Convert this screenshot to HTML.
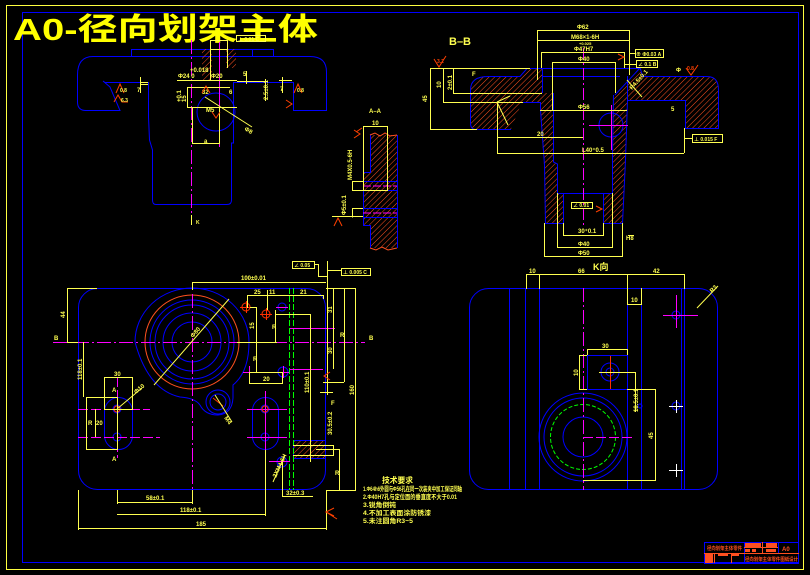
<!DOCTYPE html>
<html><head><meta charset="utf-8"><style>
html,body{margin:0;padding:0;background:#000;width:810px;height:575px;overflow:hidden}
svg{display:block}
text{font-family:"Liberation Sans","Noto Sans CJK SC",sans-serif;font-weight:bold}
</style></head><body>
<svg width="810" height="575" viewBox="0 0 810 575" xmlns="http://www.w3.org/2000/svg">
<defs>
<pattern id="h" patternUnits="userSpaceOnUse" width="4" height="4" patternTransform="rotate(45)"><line x1="0" y1="0" x2="0" y2="4" stroke="#ff5020" stroke-width="1"/></pattern>
</defs>
<rect width="810" height="575" fill="#000"/>

<!-- frames -->
<rect x="6.5" y="5.5" width="797" height="564" fill="none" stroke="#ffff40"/>
<rect x="22.5" y="12.5" width="776" height="550" fill="none" stroke="#0000ff"/>

<!-- title -->
<text x="13" y="40" font-size="31" fill="#ffff00" textLength="305" lengthAdjust="spacingAndGlyphs">A0-径向划架主体</text>

<!-- ============ TOP-LEFT VIEW ============ -->
<g fill="none" stroke="#0000ff">
<rect x="131.5" y="49.5" width="142" height="7"/>
<line x1="252.5" y1="49.5" x2="252.5" y2="56.5"/>
<path d="M93,56.5 L310,56.5 Q326.5,56.5 326.5,72 L326.5,110.5 L293.5,110.5 L293.5,82.5 L233.5,82.5 L233.5,143 L231.5,143 L231.5,200 Q231.5,204.5 227,204.5 L156,204.5 Q152.5,204.5 152.5,200 L152.5,150 L149.5,140 L148.5,117 L148.5,82.5 L105,82.5 L103,81 L110,87 L120,110.5 L86,110.5 Q77.5,110.5 77.5,102 L77.5,75 Q77.5,56.5 93,56.5 Z"/>
<circle cx="216" cy="112" r="19"/>
</g>
<rect x="202" y="49" width="10" height="31" fill="url(#h)"/>
<rect x="226" y="49" width="10" height="19" fill="url(#h)"/>
<g stroke="#ff00ff" fill="none">
<line x1="191.5" y1="40" x2="191.5" y2="213" stroke-dasharray="14 3 2 3"/>
<line x1="219.5" y1="42" x2="219.5" y2="147"/>
<line x1="219" y1="107.5" x2="236" y2="107.5"/>
</g>
<g stroke="#ffff50" fill="none">
<rect x="210.5" y="40.5" width="17" height="9"/>
<line x1="210.5" y1="49" x2="210.5" y2="80"/>
<line x1="227.5" y1="49" x2="227.5" y2="68"/>
<line x1="177" y1="80.5" x2="237" y2="80.5"/>
<line x1="187.5" y1="87" x2="187.5" y2="107"/>
<line x1="187" y1="87.5" x2="230" y2="87.5"/>
<line x1="187" y1="107.5" x2="237" y2="107.5"/>
<rect x="192.5" y="107.5" width="27" height="36"/>
<line x1="205" y1="97" x2="252" y2="127"/>
<rect x="236.5" y="35.5" width="29" height="6"/>
<line x1="140.5" y1="77" x2="140.5" y2="93"/>
<line x1="140" y1="82.5" x2="148" y2="82.5"/>
<line x1="140" y1="84.5" x2="148" y2="84.5"/>
<line x1="246.5" y1="71" x2="246.5" y2="84"/>
<line x1="237" y1="81.5" x2="267" y2="81.5"/>
<line x1="265.5" y1="79" x2="265.5" y2="101"/>
<line x1="282.5" y1="77" x2="282.5" y2="93"/>
<line x1="279" y1="80.5" x2="292" y2="80.5"/>
<line x1="191.5" y1="215" x2="191.5" y2="225"/>
</g>
<g fill="#ffff50" font-size="6">
<text x="190" y="72">+0.018</text>
<text x="178" y="78">Φ24 0</text>
<text x="211" y="78">Φ20</text>
<text x="202" y="94">32</text>
<text x="229" y="94">6</text>
<text x="137" y="92">7</text>
<text x="243" y="76">5</text>
<text x="280" y="91">7</text>
<text x="206" y="112">M5</text>
<text x="204" y="143">a</text>
<text x="244" y="130" transform="rotate(30 244 130)">Φ8</text>
<text x="238" y="41" font-size="5">⊥ 0.01 C</text>
<text x="186" y="102" transform="rotate(-90 186 102)">15</text>
<text x="181" y="102" transform="rotate(-90 181 102)">+0.1</text>
<text x="268" y="100" transform="rotate(-90 268 100)">2.5±0.1</text>
<text x="196" y="224" font-size="5">K</text>
</g>
<g fill="none" stroke="#ff4000">
<path d="M116,93 L120,84 L124,93 M114,102 L118,95 L122,102 L128,102"/>
<path d="M294,93 L298,84 L302,93"/>
<path d="M202,93 L206,86 L210,93 M212,112 L216,118 L220,112"/>
<path d="M286,100 L292,104 L286,108"/>
</g>
<g fill="#ffff50" font-size="5"><text x="120" y="92">0.8</text><text x="121" y="102">6.3</text><text x="297" y="92">0.8</text></g>

<!-- ============ A-A SECTION ============ -->
<path d="M370,135 L397,135 L397,248 L370,248 L370,225 L363,225 L363,172 L370,172 Z" fill="url(#h)"/>
<g fill="none" stroke="#0000ff">
<path d="M370.5,135 L370.5,172.5 L363.5,172.5 L363.5,225.5 L370.5,225.5 L370.5,248"/>
<line x1="397.5" y1="135" x2="397.5" y2="248"/>
<line x1="363" y1="181.5" x2="397" y2="181.5"/>
<line x1="363" y1="190.5" x2="397" y2="190.5"/>
<line x1="363" y1="208.5" x2="397" y2="208.5"/>
<line x1="363" y1="217.5" x2="397" y2="217.5"/>
</g>
<path d="M370,135 L375,133 L380,136 L385,133 L390,136 L397,135 M370,248 L376,250 L382,247 L388,250 L397,248" stroke="#ff5020" fill="none"/>
<g stroke="#ff00ff"><line x1="363" y1="186" x2="397" y2="186" stroke-dasharray="8 2"/><line x1="363" y1="213" x2="397" y2="213" stroke-dasharray="8 2"/></g>
<g fill="none" stroke="#ffff50">
<rect x="363.5" y="126.5" width="24" height="64"/>
<path d="M363,181.5 L352.5,181.5 L352.5,190.5 L363,190.5"/>
<path d="M363,208.5 L352.5,208.5 L352.5,217.5"/>
<line x1="332" y1="216.5" x2="363" y2="216.5"/>
</g>
<g fill="#ffff50" font-size="6">
<text x="369" y="113">A–A</text>
<text x="372" y="125">10</text>
<text x="352" y="180" transform="rotate(-90 352 180)">M4X0.5-6H</text>
<text x="346" y="215" transform="rotate(-90 346 215)">Φ5±0.1</text>
</g>
<g fill="none" stroke="#ff4000"><path d="M354,130 L360,134 L354,138 M356,132 L362,128"/><path d="M334,226 L338,218 L342,226"/></g>

<!-- ============ B-B SECTION ============ -->
<text x="449" y="45" font-size="11" fill="#ffff50" font-weight="normal">B–B</text>
<path d="M488,76 L520,76 L527,68 L542,68 L542,93 L540,93 L540,102 L522,102 L511,129 L476,129 Q470,129 470,123 L470,90 Q470,76 488,76 Z" fill="url(#h)"/>
<path d="M540,93 L553,93 L553,162 L557,164 L557,193 L563,193 L563,223 L545,223 L544,165 L540,110 Z" fill="url(#h)"/>
<path d="M613,95 L615,95 L640,68 L643,76 L707,76 Q718,76 718,90 L718,128 L685,128 L685,100 L627,100 L625,160 L622,223 L603,223 L603,193 L612,193 L612,155 Z" fill="url(#h)"/>
<g fill="none" stroke="#0000ff">
<path d="M488,76.5 L520,76.5 L527,68.5 L542,68.5 M470.5,123 L470.5,90 Q470.5,76.5 488,76.5 M470.5,123 Q470.5,129.5 476,129.5 L511,129.5"/>
<path d="M522,102.5 L540.5,102.5 L540.5,110 L544.5,165 L545.5,223.5 L563,223.5 M553.5,93 L553.5,162 L557.5,164 L557.5,193 M563.5,193 L563.5,223"/>
<line x1="542.5" y1="68" x2="542.5" y2="93"/>
<line x1="522" y1="68.5" x2="640" y2="68.5"/>
<line x1="542" y1="76.5" x2="620" y2="76.5"/>
<line x1="557" y1="193.5" x2="612" y2="193.5"/>
<path d="M615,95 L640,68 L643,76.5 L707,76.5 Q718.5,76.5 718.5,90 L718.5,128.5 L685.5,128.5 L685.5,100.5 L627.5,100.5 L625.5,160 L622.5,223.5 L603,223.5 M612.5,193 L612.5,155 L613.5,95 M603.5,193 L603.5,223"/>
<path d="M627.5,76 L627.5,100"/>
<circle cx="611" cy="125" r="12"/>
</g>
<g stroke="#ff00ff">
<line x1="583.5" y1="48" x2="583.5" y2="228" stroke-dasharray="12 3 2 3"/>
<line x1="589" y1="125.5" x2="628" y2="125.5"/>
<line x1="611.5" y1="105" x2="611.5" y2="150"/>
</g>
<g fill="none" stroke="#ffff50">
<line x1="537" y1="30.5" x2="629" y2="30.5"/>
<line x1="537" y1="40.5" x2="629" y2="40.5"/>
<line x1="537.5" y1="30" x2="537.5" y2="80"/>
<line x1="629.5" y1="30" x2="629.5" y2="75"/>
<line x1="541" y1="52.5" x2="624" y2="52.5"/>
<line x1="541.5" y1="52" x2="541.5" y2="68"/>
<line x1="624.5" y1="52" x2="624.5" y2="68"/>
<line x1="552" y1="62.5" x2="615" y2="62.5"/>
<line x1="552.5" y1="62" x2="552.5" y2="110"/>
<line x1="615.5" y1="62" x2="615.5" y2="93"/>
<line x1="540" y1="110.5" x2="627" y2="110.5"/>
<line x1="497" y1="153.5" x2="684" y2="153.5"/>
<line x1="497" y1="137.5" x2="583" y2="137.5"/>
<line x1="497.5" y1="102" x2="497.5" y2="153"/>
<line x1="684.5" y1="128" x2="684.5" y2="153"/>
<line x1="430.5" y1="68" x2="430.5" y2="129"/>
<line x1="443.5" y1="68" x2="443.5" y2="102"/>
<line x1="453.5" y1="68" x2="453.5" y2="93"/>
<line x1="430" y1="68.5" x2="530" y2="68.5"/>
<line x1="453" y1="93.5" x2="542" y2="93.5"/>
<line x1="443" y1="102.5" x2="523" y2="102.5"/>
<line x1="430" y1="129.5" x2="477" y2="129.5"/>
<line x1="563" y1="235.5" x2="603" y2="235.5"/>
<line x1="557" y1="247.5" x2="612" y2="247.5"/>
<line x1="544" y1="256.5" x2="622" y2="256.5"/>
<line x1="563.5" y1="223" x2="563.5" y2="236"/>
<line x1="603.5" y1="223" x2="603.5" y2="236"/>
<line x1="557.5" y1="193" x2="557.5" y2="248"/>
<line x1="612.5" y1="193" x2="612.5" y2="248"/>
<line x1="544.5" y1="223" x2="544.5" y2="257"/>
<line x1="622.5" y1="223" x2="622.5" y2="257"/>
<line x1="627" y1="80" x2="642" y2="97"/>
<line x1="497" y1="102" x2="508" y2="125"/>
<line x1="497" y1="102" x2="510" y2="96"/>
<rect x="635.5" y="49.5" width="28" height="8"/>
<line x1="629" y1="53.5" x2="635" y2="53.5"/>
<rect x="636.5" y="60.5" width="21" height="7"/>
<line x1="624" y1="64.5" x2="636" y2="64.5"/>
<rect x="692.5" y="134.5" width="30" height="8"/>
<path d="M684.5,128 L684.5,138.5 L692,138.5"/>
<rect x="571.5" y="202.5" width="21" height="6"/>
<line x1="628" y1="235.5" x2="634" y2="235.5"/>
</g>
<g fill="#ffff50" font-size="6">
<text x="577" y="29">Φ62</text>
<text x="571" y="39">M68×1-6H</text>
<text x="579" y="45" font-size="4">+0.025</text>
<text x="574" y="51">Φ47H7</text>
<text x="578" y="61">Φ40</text>
<text x="578" y="109">Φ56</text>
<text x="582" y="152">L40⁺0.5</text>
<text x="537" y="136">20</text>
<text x="578" y="233">30⁺0.1</text>
<text x="578" y="246">Φ40</text>
<text x="578" y="255">Φ50</text>
<text x="636" y="56" font-size="5">⊕ Φ0.03 A</text>
<text x="638" y="66" font-size="5">∠ 0.1 B</text>
<text x="694" y="141" font-size="5">⊥ 0.015 F</text>
<text x="573" y="207" font-size="5">∠ 0.01</text>
<text x="626" y="240">Η8</text>
<text x="472" y="76">F</text>
<text x="676" y="72">Φ</text>
<text x="671" y="111">5</text>
<text x="593" y="270" font-size="9">K向</text>
<text x="427" y="102" transform="rotate(-90 427 102)">45</text>
<text x="441" y="88" transform="rotate(-90 441 88)">10</text>
<text x="452" y="90" transform="rotate(-90 452 90)">2±0.1</text>
<text x="632" y="90" transform="rotate(-48 632 90)">R4.5±0.1</text>
</g>
<g fill="none" stroke="#ff4000">
<path d="M434,59 L439,67 L444,59 L446,56"/><path d="M686,68 L691,75 L696,68 L698,65"/>
<path d="M618,54 L624,57 L618,60"/><path d="M596,206 L602,209 L596,212"/>
</g>
<g fill="#ff4000" font-size="5"><text x="437" y="63">3.2</text><text x="687" y="70">0.8</text></g>

<!-- ============ BOTTOM-LEFT VIEW ============ -->
<g fill="none" stroke="#0000ff">
<rect x="78.5" y="288.5" width="247" height="201" rx="19" ry="19"/>
<circle cx="192" cy="342" r="20"/>
<circle cx="192" cy="342" r="29"/>
<circle cx="192" cy="342" r="37"/>
<circle cx="192" cy="342" r="42"/>
<path d="M135,342 A57,54 0 0 1 249,342 Q249,372 233,385 L233,398 Q232,414 218,415 Q205,415 200,405 Q195,398 180,397 Q148,390 135,342 Z"/>
<circle cx="218" cy="402" r="8"/>
<circle cx="218" cy="402" r="12"/>
<rect x="104.5" y="397.5" width="28" height="52" rx="14" ry="14"/>
<rect x="252.5" y="397.5" width="26" height="52" rx="13" ry="13"/>
<circle cx="117" cy="409" r="4"/><circle cx="117" cy="437" r="4"/>
<circle cx="265" cy="409" r="4"/><circle cx="265" cy="437" r="4"/>
<circle cx="282" cy="307" r="4"/><circle cx="283" cy="372" r="5"/><circle cx="282" cy="462" r="5"/>
<rect x="293.5" y="440.5" width="32" height="18"/>
</g>
<circle cx="192" cy="342" r="47" fill="none" stroke="#ff5020"/>
<rect x="294" y="441" width="31" height="17" fill="url(#h)"/>
<g stroke="#00ff00" stroke-dasharray="6 2"><line x1="289.5" y1="288" x2="289.5" y2="490"/><line x1="293.5" y1="288" x2="293.5" y2="490"/></g>
<g stroke="#ff00ff">
<line x1="53" y1="342.5" x2="365" y2="342.5" stroke-dasharray="14 3 2 3"/>
<line x1="192.5" y1="294" x2="192.5" y2="492" stroke-dasharray="14 3 2 3"/>
<line x1="78" y1="409.5" x2="150" y2="409.5" stroke-dasharray="10 3"/>
<line x1="78" y1="437.5" x2="160" y2="437.5" stroke-dasharray="10 3"/>
<line x1="247" y1="409.5" x2="287" y2="409.5"/>
<line x1="247" y1="437.5" x2="287" y2="437.5"/>
<line x1="117.5" y1="377" x2="117.5" y2="458" stroke-dasharray="10 3"/>
<line x1="265.5" y1="391" x2="265.5" y2="458"/>
<line x1="290" y1="328.5" x2="335" y2="328.5"/>
<line x1="290" y1="369.5" x2="323" y2="369.5"/>
<line x1="269" y1="461.5" x2="290" y2="461.5"/>
</g>
<g stroke="#ff3000" fill="none">
<circle cx="246" cy="307" r="4"/><line x1="240" y1="307.5" x2="252" y2="307.5"/><line x1="246.5" y1="301" x2="246.5" y2="313"/>
<circle cx="266" cy="314" r="4"/><line x1="260" y1="314.5" x2="272" y2="314.5"/><line x1="266.5" y1="308" x2="266.5" y2="320"/>
<circle cx="117" cy="409" r="3"/><circle cx="265" cy="409" r="3"/>
<line x1="213" y1="398" x2="223" y2="406"/>
</g>
<g stroke="#ff00ff"><line x1="276" y1="307.5" x2="288" y2="307.5"/><line x1="243" y1="372.5" x2="255" y2="372.5"/><line x1="277" y1="372.5" x2="289" y2="372.5"/><line x1="283.5" y1="366" x2="283.5" y2="378"/><line x1="249.5" y1="366" x2="249.5" y2="378"/></g>
<g fill="none" stroke="#ffff50">
<line x1="192" y1="282.5" x2="326" y2="282.5"/>
<line x1="192.5" y1="282" x2="192.5" y2="290"/>
<line x1="67.5" y1="288" x2="67.5" y2="342"/>
<line x1="67" y1="288.5" x2="97" y2="288.5"/>
<line x1="67" y1="342.5" x2="78" y2="342.5"/>
<line x1="83.5" y1="342" x2="83.5" y2="397"/>
<rect x="104.5" y="377.5" width="28" height="32"/>
<rect x="86.5" y="397.5" width="31" height="52"/>
<line x1="95.5" y1="409" x2="95.5" y2="437"/>
<line x1="117" y1="409" x2="142" y2="388"/>
<line x1="154" y1="385" x2="229" y2="299"/>
<line x1="215" y1="395" x2="232" y2="422"/>
<line x1="247" y1="295.5" x2="323" y2="295.5"/>
<line x1="247.5" y1="295" x2="247.5" y2="308"/>
<line x1="267.5" y1="290" x2="267.5" y2="310"/>
<line x1="323.5" y1="295" x2="323.5" y2="299"/>
<path d="M250,307.5 L256.5,307.5 L256.5,372.5 L250,372.5"/>
<rect x="249.5" y="372.5" width="33" height="11"/>
<line x1="275.5" y1="310" x2="275.5" y2="342"/>
<line x1="275" y1="314.5" x2="310" y2="314.5"/>
<line x1="310.5" y1="314" x2="310.5" y2="462"/>
<line x1="237" y1="342.5" x2="277" y2="342.5"/>
<line x1="333.5" y1="288" x2="333.5" y2="369"/>
<line x1="344.5" y1="288" x2="344.5" y2="382"/>
<line x1="355.5" y1="288" x2="355.5" y2="490"/>
<line x1="326" y1="288.5" x2="356" y2="288.5"/>
<line x1="323" y1="382.5" x2="344" y2="382.5"/>
<line x1="320" y1="392.5" x2="333" y2="392.5"/>
<line x1="327.5" y1="261" x2="327.5" y2="395"/>
<line x1="326.5" y1="490" x2="326.5" y2="530"/>
<line x1="293" y1="445.5" x2="333" y2="445.5"/>
<line x1="293" y1="455.5" x2="333" y2="455.5"/>
<line x1="333.5" y1="445" x2="333.5" y2="456"/>
<line x1="316" y1="449.5" x2="339" y2="449.5"/>
<line x1="339.5" y1="449" x2="339.5" y2="490"/>
<line x1="326" y1="490.5" x2="356" y2="490.5"/>
<line x1="282" y1="496.5" x2="313" y2="496.5"/>
<line x1="282.5" y1="462" x2="282.5" y2="497"/>
<line x1="285" y1="455" x2="273" y2="482"/>
<line x1="117.5" y1="490" x2="117.5" y2="504"/>
<line x1="192.5" y1="490" x2="192.5" y2="504"/>
<line x1="265.5" y1="450" x2="265.5" y2="516"/>
<line x1="78.5" y1="490" x2="78.5" y2="530"/>
<line x1="117" y1="502.5" x2="192" y2="502.5"/>
<line x1="117" y1="514.5" x2="265" y2="514.5"/>
<line x1="78" y1="528.5" x2="326" y2="528.5"/>
<rect x="292.5" y="261.5" width="22" height="7"/>
<path d="M314,264.5 L318.5,264.5 L318.5,276.5 L327,276.5"/>
<rect x="341.5" y="268.5" width="29" height="7"/>
<line x1="327" y1="270.5" x2="341" y2="270.5"/>
</g>
<g fill="#ffff50" font-size="6">
<text x="241" y="280">100±0.01</text>
<text x="65" y="318" transform="rotate(-90 65 318)">44</text>
<text x="82" y="380" transform="rotate(-90 82 380)">118±0.1</text>
<text x="114" y="376">30</text>
<text x="88" y="425">R</text><text x="96" y="425">20</text>
<text x="112" y="392">A</text><text x="112" y="461">A</text>
<text x="136" y="394" transform="rotate(-40 136 394)">Φ10</text>
<text x="193" y="338" transform="rotate(-49 193 338)">Φ80</text>
<text x="224" y="418" transform="rotate(55 224 418)">M4</text>
<text x="254" y="294">25</text><text x="269" y="294">11</text><text x="300" y="294">21</text>
<text x="254" y="329" transform="rotate(-90 254 329)">15</text>
<text x="253" y="361">R</text>
<text x="263" y="381">20</text>
<text x="272" y="329">R</text>
<text x="309" y="393" transform="rotate(-90 309 393)">110±0.1</text>
<text x="332" y="313" transform="rotate(-90 332 313)">31</text>
<text x="332" y="354" transform="rotate(-90 332 354)">30</text>
<text x="340" y="337">R</text>
<text x="354" y="395" transform="rotate(-90 354 395)">160</text>
<text x="332" y="435" transform="rotate(-90 332 435)">30.5±0.2</text>
<text x="335" y="475">R</text>
<text x="286" y="495">32±0.3</text>
<text x="276" y="478" transform="rotate(-65 276 478)">2XM4-6H</text>
<text x="146" y="500">58±0.1</text>
<text x="180" y="512">118±0.1</text>
<text x="196" y="526">185</text>
<text x="294" y="267" font-size="5">∠ 0.05</text>
<text x="343" y="274" font-size="5">⊥ 0.005 C</text>
<text x="54" y="340">B</text><text x="369" y="340">B</text>
<text x="331" y="405">F</text>
</g>
<g fill="none" stroke="#ff4000"><path d="M334,508 L326,512 L334,516 M326,512 L337,519"/><path d="M330,372 L324,376 L330,380"/></g>

<!-- ============ BOTTOM-RIGHT VIEW ============ -->
<g fill="none" stroke="#0000ff">
<rect x="469.5" y="288.5" width="248" height="201" rx="19" ry="19"/>
<line x1="509.5" y1="288" x2="509.5" y2="490"/>
<line x1="525.5" y1="288" x2="525.5" y2="490"/>
<line x1="539.5" y1="288" x2="539.5" y2="490"/>
<line x1="627.5" y1="288" x2="627.5" y2="490"/>
<line x1="641.5" y1="288" x2="641.5" y2="490"/>
<line x1="681.5" y1="288" x2="681.5" y2="490"/>
<line x1="684.5" y1="288" x2="684.5" y2="490"/>
<circle cx="583" cy="437" r="44"/>
<circle cx="583" cy="437" r="39"/>
<circle cx="583" cy="437" r="20"/>
<rect x="587.5" y="355.5" width="40" height="34"/>
<circle cx="610" cy="372" r="4"/><circle cx="610" cy="372" r="9"/>
<circle cx="676" cy="315" r="4"/>
<circle cx="676" cy="406" r="4"/>
<circle cx="640" cy="406" r="2"/>
</g>
<circle cx="583" cy="437" r="32.5" fill="none" stroke="#00ff00" stroke-dasharray="4 2"/>
<g stroke="#ff00ff">
<line x1="583.5" y1="288" x2="583.5" y2="490" stroke-dasharray="14 3 2 3"/>
<line x1="583" y1="437.5" x2="633" y2="437.5" stroke-dasharray="10 3"/>
<line x1="663" y1="315.5" x2="698" y2="315.5"/>
<line x1="676.5" y1="295" x2="676.5" y2="328"/>
</g>
<g stroke="#ff3000"><line x1="599" y1="372.5" x2="635" y2="372.5"/><line x1="610.5" y1="356" x2="610.5" y2="389"/></g>
<g stroke="#ffffff"><line x1="669" y1="406.5" x2="683" y2="406.5"/><line x1="676.5" y1="400" x2="676.5" y2="413"/><line x1="669" y1="470.5" x2="683" y2="470.5"/><line x1="676.5" y1="464" x2="676.5" y2="477"/></g>
<g fill="none" stroke="#ffff50">
<line x1="526" y1="274.5" x2="684" y2="274.5"/>
<line x1="526.5" y1="274" x2="526.5" y2="289"/>
<line x1="539.5" y1="274" x2="539.5" y2="289"/>
<line x1="627.5" y1="274" x2="627.5" y2="304"/>
<line x1="684.5" y1="274" x2="684.5" y2="289"/>
<path d="M627,304.5 L641.5,304.5 L641.5,288"/>
<line x1="587" y1="349.5" x2="627" y2="349.5"/>
<line x1="587.5" y1="349" x2="587.5" y2="355"/>
<line x1="627.5" y1="349" x2="627.5" y2="355"/>
<path d="M587,355.5 L579.5,355.5 L579.5,389.5 L587,389.5"/>
<line x1="627" y1="389.5" x2="655" y2="389.5"/>
<line x1="655.5" y1="389" x2="655.5" y2="480"/>
<line x1="583" y1="480.5" x2="656" y2="480.5"/>
<path d="M599,372.5 L635.5,372.5 L635.5,412"/>
<line x1="697" y1="308" x2="718" y2="286"/>
<line x1="544" y1="256.5" x2="622" y2="256.5"/>
</g>
<g fill="#ffff50" font-size="6">
<text x="529" y="273">10</text>
<text x="578" y="273">66</text>
<text x="653" y="273">42</text>
<text x="631" y="302">10</text>
<text x="602" y="348">30</text>
<text x="578" y="376" transform="rotate(-90 578 376)">10</text>
<text x="638" y="412" transform="rotate(-90 638 412)">18.5±0.1</text>
<text x="653" y="439" transform="rotate(-90 653 439)">45</text>
<text x="712" y="293" transform="rotate(-45 712 293)">R3</text>
</g>

<!-- ============ TECH NOTES ============ -->
<g fill="#ffff50">
<text x="382" y="483" font-size="8" textLength="31" lengthAdjust="spacingAndGlyphs">技术要求</text>
<text x="363" y="491" font-size="6.5" textLength="99" lengthAdjust="spacingAndGlyphs">1.Φ64h6外圆与Φ56孔在同一次装夹中加工保证同轴</text>
<text x="363" y="499" font-size="6.5" textLength="94" lengthAdjust="spacingAndGlyphs">2.Φ40H7孔与定位面的垂直度不大于0.01</text>
<text x="363" y="507" font-size="6.5" textLength="33" lengthAdjust="spacingAndGlyphs">3.锐角倒钝</text>
<text x="363" y="515" font-size="6.5" textLength="68" lengthAdjust="spacingAndGlyphs">4.不加工表面涂防锈漆</text>
<text x="363" y="523" font-size="6.5" textLength="50" lengthAdjust="spacingAndGlyphs">5.未注圆角R3~5</text>
</g>

<!-- ============ TITLE BLOCK ============ -->
<g fill="none" stroke="#0000ff">
<rect x="704.5" y="542.5" width="94" height="21"/>
<line x1="744.5" y1="542" x2="744.5" y2="563"/>
<line x1="778.5" y1="542" x2="778.5" y2="553"/>
</g>
<g stroke="#ff5020" fill="none">
<line x1="704" y1="553.5" x2="799" y2="553.5"/>
<line x1="714.5" y1="553" x2="714.5" y2="563"/>
<line x1="731.5" y1="553" x2="731.5" y2="563"/>
<line x1="744" y1="547.5" x2="778" y2="547.5"/>
<line x1="762.5" y1="542" x2="762.5" y2="553"/>
</g>
<g fill="#ff5020">
<text x="707" y="550" font-size="5" textLength="35" lengthAdjust="spacingAndGlyphs">径向划架主体零件</text>
<rect x="745" y="543" width="16" height="4"/>
<rect x="766" y="543" width="11" height="4"/>
<rect x="745" y="549" width="5" height="3"/>
<rect x="752" y="549" width="4" height="3"/>
<rect x="766" y="549" width="10" height="3"/>
<text x="782" y="551" font-size="6">A0</text>
<rect x="705" y="554" width="8" height="9"/>
<rect x="718" y="554" width="10" height="2"/>
<rect x="732" y="554" width="7" height="2"/>
<text x="745" y="561" font-size="5" textLength="53" lengthAdjust="spacingAndGlyphs">径向划架主体零件图纸设计</text>
</g>
</svg>
</body></html>
